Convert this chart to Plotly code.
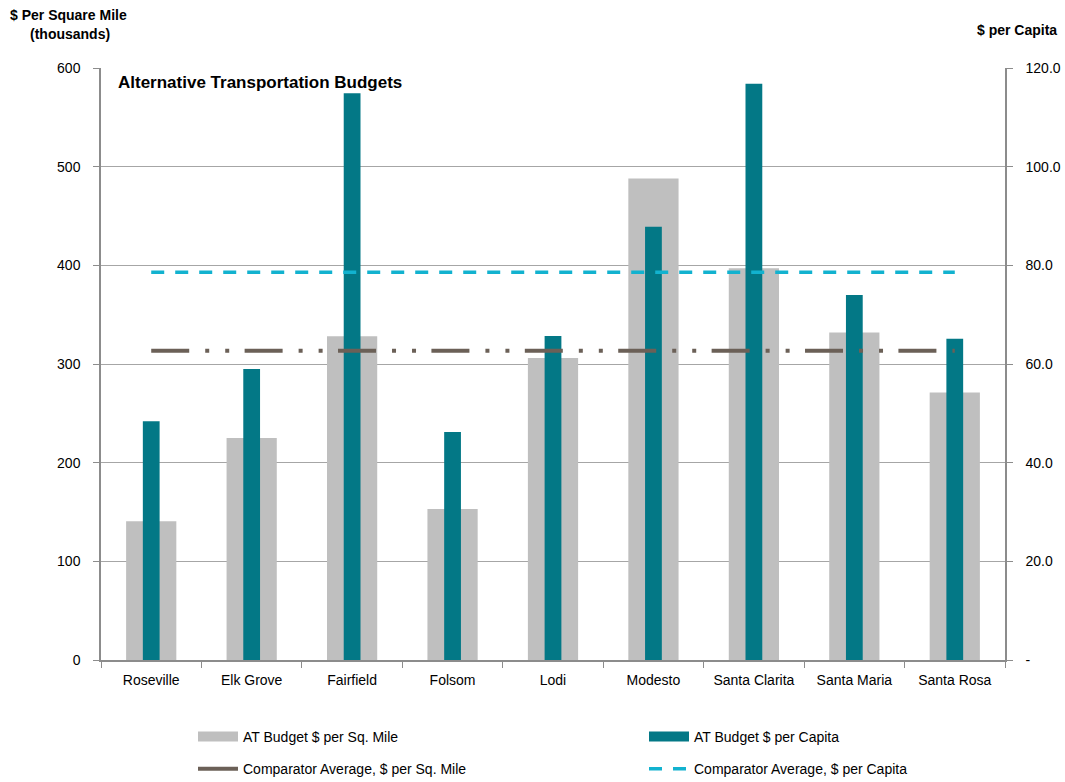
import plotly.graph_objects as go

# City budgets for alternative transportation
cities = ["Roseville", "Elk Grove", "Fairfield", "Folsom", "Lodi",
          "Modesto", "Santa Clarita", "Santa Maria", "Santa Rosa"]
per_sq_mile = [140.5, 225, 328, 153, 306, 488, 397, 332, 271]      # $ thousands
per_capita = [48.4, 59.0, 114.9, 46.2, 65.7, 87.8, 116.8, 74.0, 65.1]
avg_sq_mile = 313.5
avg_per_capita = 78.6

left_ticks = [0, 100, 200, 300, 400, 500, 600]
right_ticks = [0, 20, 40, 60, 80, 100, 120]
right_labels = ["-", "20.0", "40.0", "60.0", "80.0", "100.0", "120.0"]

GRAY = "#bfbfbf"
TEAL = "#037886"
BROWN = "#6b6057"
CYAN = "#12b2cf"
AXIS = "#8c8c8c"
FONT = "Liberation Sans, Arial, sans-serif"

W, H = 1065, 782
ML, MR, MT, MB = 101, 60, 68, 122
PW, PH = W - ML - MR, H - MT - MB


def px_x(x):
    """Pixel column -> paper x (paper spans the plot area)."""
    return (x - ML) / PW


def px_y(y):
    """Pixel row -> paper y."""
    return (H - MB - y) / PH


fig = go.Figure()

fig.add_trace(go.Bar(x=cities, y=per_sq_mile, width=0.5, marker_color=GRAY,
                     marker_line_width=0, yaxis="y", showlegend=False))
fig.add_trace(go.Bar(x=cities, y=per_capita, width=0.167, marker_color=TEAL,
                     marker_line_width=0, yaxis="y2", showlegend=False))
fig.add_trace(go.Scatter(x=cities, y=[avg_per_capita] * len(cities), mode="lines",
                         line=dict(color=CYAN, width=3.5, dash="13px,11px"),
                         yaxis="y2", showlegend=False))
fig.add_trace(go.Scatter(x=cities, y=[avg_sq_mile] * len(cities), mode="lines",
                         line=dict(color=BROWN, width=4,
                                   dash="38px,16px,4px,16px,4px,15.4px"),
                         yaxis="y3", showlegend=False))

# legend entries
fig.add_trace(go.Scatter(x=[None], y=[None], mode="lines", name="AT Budget $ per Sq. Mile",
                         line=dict(color=GRAY, width=10), legend="legend"))
fig.add_trace(go.Scatter(x=[None], y=[None], mode="lines", name="Comparator Average, $ per Sq. Mile",
                         line=dict(color=BROWN, width=4), legend="legend", legendgroup="b"))
fig.add_trace(go.Scatter(x=[None], y=[None], mode="lines", name="AT Budget $ per Capita",
                         line=dict(color=TEAL, width=10), legend="legend2"))
fig.add_trace(go.Scatter(x=[None], y=[None], mode="lines", name="Comparator Average, $ per Capita",
                         line=dict(color=CYAN, width=3.5, dash="13px,11px"),
                         legend="legend2", legendgroup="d"))

fig.update_layout(
    width=W, height=H,
    margin=dict(l=ML, r=MR, t=MT, b=MB, autoexpand=False),
    plot_bgcolor="white", paper_bgcolor="white",
    barmode="overlay",
    font=dict(family=FONT, size=14, color="#000000"),
    xaxis=dict(type="category", showline=True, linecolor=AXIS, linewidth=1.5,
               ticks="outside", tickson="boundaries", ticklen=6, tickcolor=AXIS,
               showgrid=False, tickfont=dict(size=14), automargin=False,
               ticklabelstandoff=6),
    yaxis=dict(range=[0, 600], tickvals=left_ticks, showline=True, linecolor=AXIS,
               linewidth=1.5, ticks="outside", ticklen=6, tickcolor=AXIS,
               showgrid=True, gridcolor="#a6a6a6", gridwidth=1, zeroline=False,
               ticklabelstandoff=10, automargin=False),
    yaxis2=dict(range=[0, 120], tickvals=right_ticks, ticktext=right_labels,
                overlaying="y", side="right", showline=True, linecolor=AXIS,
                linewidth=1.5, ticks="outside", ticklen=6, tickcolor=AXIS,
                showgrid=False, zeroline=False, ticklabelstandoff=10,
                automargin=False),
    yaxis3=dict(range=[0, 600], overlaying="y", visible=False),
    legend=dict(x=px_x(193), y=1 - 721 / H, xanchor="left", yanchor="top",
                yref="container", font=dict(size=14),
                tracegroupgap=11, itemwidth=40, bgcolor="rgba(0,0,0,0)"),
    legend2=dict(x=px_x(644), y=1 - 721 / H, xanchor="left", yanchor="top",
                 yref="container", font=dict(size=14),
                 tracegroupgap=11, itemwidth=40, bgcolor="rgba(0,0,0,0)"),
)

fig.add_annotation(text="<b>Alternative Transportation Budgets</b>", x=px_x(116), y=px_y(82),
                   xref="paper", yref="paper", xanchor="left", yanchor="middle",
                   showarrow=False, font=dict(size=17))
fig.add_annotation(text="<b>$ Per Square Mile</b>", x=px_x(8), y=px_y(15),
                   xref="paper", yref="paper", xanchor="left", yanchor="middle",
                   showarrow=False, font=dict(size=14))
fig.add_annotation(text="<b>(thousands)</b>", x=px_x(28), y=px_y(34),
                   xref="paper", yref="paper", xanchor="left", yanchor="middle",
                   showarrow=False, font=dict(size=14))
fig.add_annotation(text="<b>$ per Capita</b>", x=px_x(1059), y=px_y(30),
                   xref="paper", yref="paper", xanchor="right", yanchor="middle",
                   showarrow=False, font=dict(size=14))

fig.write_html("out.html")
